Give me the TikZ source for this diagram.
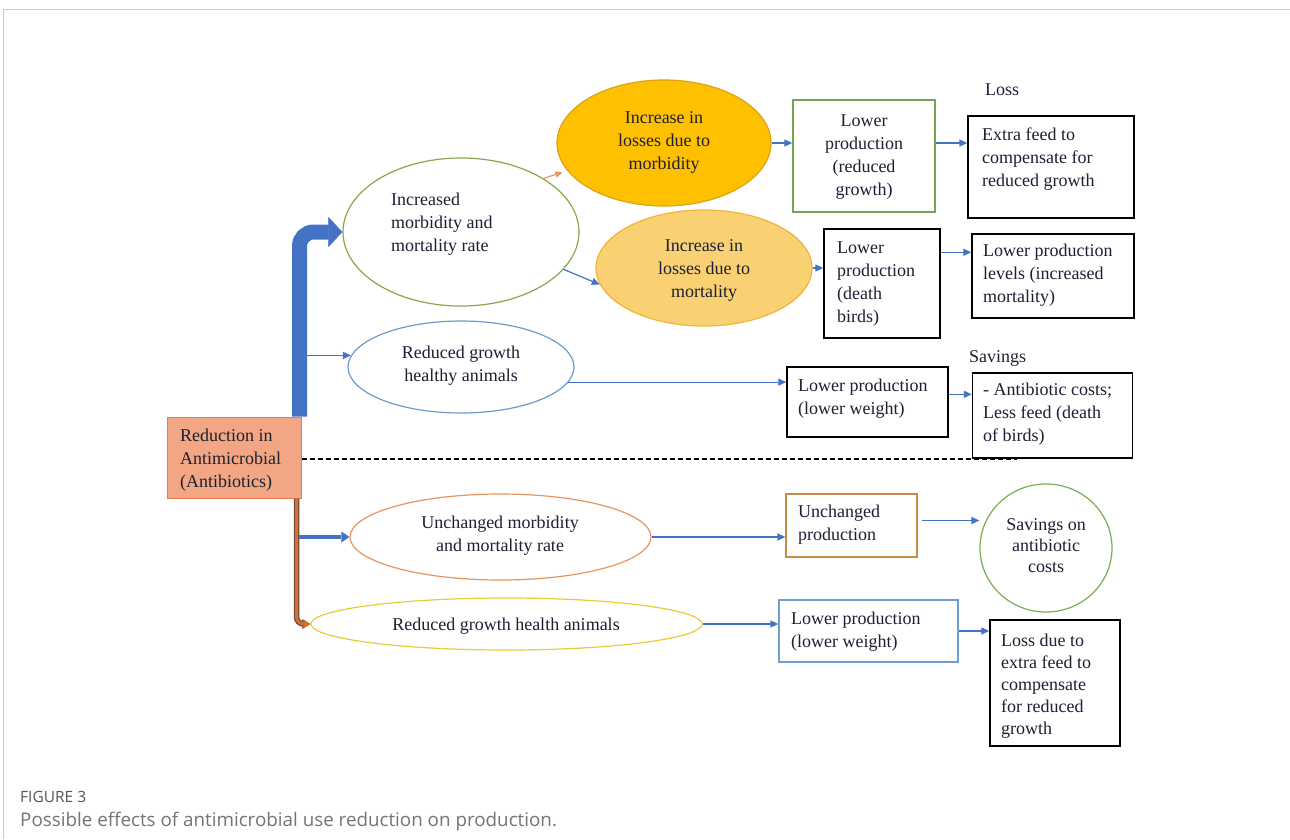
\documentclass[tikz,border=0pt]{standalone}
\usepackage{fontspec}
\setmainfont{Liberation Serif}
\newfontfamily\capfont{Open Sans}
\usetikzlibrary{shapes.geometric,arrows.meta,calc}

\definecolor{framegray}{HTML}{C8C8C8}
\definecolor{ink}{HTML}{1C2033}
\definecolor{redfill}{HTML}{F3A683}
\definecolor{redline}{HTML}{E8804A}
\definecolor{arrowblue}{HTML}{4472C4}
\definecolor{greenA}{HTML}{86A84B}
\definecolor{blueA}{HTML}{6C9BCB}
\definecolor{gold}{HTML}{FFC000}
\definecolor{golddark}{HTML}{D9A514}
\definecolor{lightgold}{HTML}{FAD172}
\definecolor{lightgoldline}{HTML}{F0B53A}
\definecolor{greenB}{HTML}{76A453}
\definecolor{orangeell}{HTML}{E69560}
\definecolor{brownbox}{HTML}{C98B45}
\definecolor{greenC}{HTML}{7AAE52}
\definecolor{yellowell}{HTML}{E8CB35}
\definecolor{blueB}{HTML}{6D9FCF}
\definecolor{orgfill}{HTML}{D8702E}
\definecolor{orgline}{HTML}{6B4A3A}
\definecolor{capA}{HTML}{555555}
\definecolor{capB}{HTML}{757575}

% strut that fixes the height of a first text line
\newcommand{\fs}{\rule{0pt}{14pt}}

\tikzset{
  shapebox/.style={rectangle, draw, line width=1.4pt, inner sep=0pt},
  shapeell/.style={ellipse, draw, line width=1.2pt, inner sep=0pt},
  txl/.style={font=\fontsize{18}{23}\selectfont, text=ink, inner sep=0pt, align=left, anchor=north west},
  txc/.style={font=\fontsize{18}{23}\selectfont, text=ink, inner sep=0pt, align=center, anchor=north},
  arr/.style={draw=arrowblue, line width=1.2pt, -{Triangle[length=8pt,width=7pt]}},
  bigarrow/.style={draw=arrowblue, line width=15pt, rounded corners=14pt,
    -{Triangle[length=14pt,width=30pt,line width=0.5pt]}},
}

\begin{document}
\begin{tikzpicture}[x=1pt,y=-1pt]
\useasboundingbox (0,0) rectangle (1290,839);
\fill[white] (0,0) rectangle (1290,839);
% panel frame
\draw[framegray, line width=1pt] (3,839) -- (3,9) -- (1290,9);

% ---- shapes ----
\node[shapebox, fill=redfill, draw=redline, line width=1pt, minimum width=134pt, minimum height=81pt] (red) at (234,457.5) {};

\node[shapeell, draw=greenA, minimum width=236pt, minimum height=148pt] (incmm) at (461,232) {};
\node[shapeell, draw=blueA, minimum width=226pt, minimum height=92pt] (rgh) at (461,367) {};
\node[shapeell, fill=gold, draw=golddark, minimum width=214pt, minimum height=126pt] (incmorb) at (664,143) {};
\node[shapeell, fill=lightgold, draw=lightgoldline, minimum width=216pt, minimum height=116pt] (incmort) at (704,268) {};

\node[shapebox, draw=greenB, minimum width=142pt, minimum height=112pt] (lpr) at (864,156) {};
\node[shapebox, draw=black, minimum width=116pt, minimum height=109pt] (ldb) at (882,283.5) {};
\node[shapebox, draw=black, minimum width=166pt, minimum height=102pt] (extra) at (1051,167) {};
\node[shapebox, draw=black, minimum width=162pt, minimum height=84pt] (levels) at (1053,276) {};
\node[shapebox, draw=black, minimum width=161pt, minimum height=70pt] (lpwa) at (867.5,402) {};
\node[shapebox, draw=black, minimum width=160pt, minimum height=85pt] (savbox) at (1052.5,415.5) {};

\node[shapeell, draw=orangeell, minimum width=301pt, minimum height=86pt] (unch) at (500.5,537) {};
\node[shapebox, draw=brownbox, line width=1.2pt, minimum width=131pt, minimum height=63pt] (upr) at (851.5,525.5) {};
\node[shapeell, draw=greenC, minimum width=132pt, minimum height=128pt] (savcirc) at (1046,548) {};
\node[shapeell, draw=yellowell, minimum width=391pt, minimum height=52pt] (rgha) at (506.5,624) {};
\node[shapebox, draw=blueB, line width=1.2pt, minimum width=179pt, minimum height=62pt] (lpwb) at (868.5,631) {};
\node[shapebox, draw=black, minimum width=130pt, minimum height=126pt] (lossbox) at (1055,683) {};

% ---- texts ----
\node[txl] (tred) at (180,427) {\fs Reduction in\\Antimicrobial\\(Antibiotics)};
\node[txl] (tincmm) at (391,191) {\fs Increased\\morbidity and\\mortality rate};
\node[txc] (trgh) at (461,344) {\fs Reduced growth\\healthy animals};
\node[txc] (tincmorb) at (664,109) {\fs Increase in\\losses due to\\morbidity};
\node[txc] (tincmort) at (704,237) {\fs Increase in\\losses due to\\mortality};
\node[txc] (tlpr) at (864,112) {\fs Lower\\production\\(reduced\\growth)};
\node[txl] (tldb) at (837,239) {\fs Lower\\production\\(death\\birds)};
\node[txl] (tloss) at (985,81) {\fs Loss};
\node[txl] (textra) at (982,126) {\fs Extra feed to\\compensate for\\reduced growth};
\node[txl] (tlevels) at (983,242) {\fs Lower production\\levels (increased\\mortality)};
\node[txl] (tsavings) at (969,348) {\fs Savings};
\node[txl] (tlpwa) at (798,377) {\fs Lower production\\(lower weight)};
\node[txl] (tsavbox) at (983,381) {\fs - Antibiotic costs;\\Less feed (death\\of birds)};
\node[txc] (tunch) at (500,514) {\fs Unchanged morbidity\\and mortality rate};
\node[txl] (tupr) at (798,503) {\fs Unchanged\\production};
\node[txc, font=\fontsize{18}{21}\selectfont] (tsavcirc) at (1046,516) {\fs Savings on\\antibiotic\\costs};
\node[txc] (trgha) at (506,616) {\fs Reduced growth health animals};
\node[txl] (tlpwb) at (791,610) {\fs Lower production\\(lower weight)};
\node[txl, font=\fontsize{18}{22}\selectfont] (tlossbox) at (1001,632) {\fs Loss due to\\extra feed to\\compensate\\for reduced\\growth};

% ---- connectors ----
\coordinate (barx) at (299.5,0);
\coordinate (ox) at (296.5,0);
\coordinate (barr) at (307,0);
\coordinate (dashend) at (1017,459);

% separator between the two scenarios
\draw[line width=1.3pt, dash pattern=on 5pt off 3pt] (red.east |- dashend) -- (dashend);

% upper branch
\draw[bigarrow] (red.north -| barx) |- (incmm.west);
\draw[arr] (rgh.174 -| barr) -- (rgh.174);
\draw[draw=orangeell, line width=1.2pt, -{Triangle[length=7pt,width=6pt]}] (incmm.33) -- ([xshift=-10pt,yshift=4pt]incmorb.200);
\draw[arr] (incmm.-20) -- (incmort.189);
\draw[arr] (incmorb.east) -- (incmorb.east -| lpr.west);
\draw[arr] (lpr.east |- incmorb.east) -- (incmorb.east -| extra.west);
\draw[arr] (incmort.east) -- (incmort.east -| ldb.west);
\draw[arr] ([yshift=-24pt]ldb.north east) -- ([yshift=-24pt]ldb.north east -| levels.west);
\draw[arr] (rgh.-8) -- (rgh.-8 -| lpwa.west);
\draw[arr] ([yshift=-28pt]lpwa.north east) -- ([yshift=-28pt]lpwa.north east -| savbox.west);

% lower branch
\draw[line width=5.5pt, draw=orgline, rounded corners=7pt, -{Triangle[length=8pt,width=10pt,line width=0pt]}] (red.south -| ox) |- (rgha.west);
\draw[line width=3pt, draw=orgfill, rounded corners=7pt, -{Triangle[length=7pt,width=8pt,line width=0pt]}] (red.south -| ox) |- (rgha.west);
\draw[draw=arrowblue, line width=4pt, -{Triangle[length=8pt,width=11pt,line width=0pt]}] ([xshift=2pt]unch.west -| ox) -- (unch.west);
\draw[arr] (unch.east) -- (unch.east -| upr.west);
\draw[arr] ([xshift=4pt,yshift=5pt]upr.east) -- ([yshift=5pt]upr.east -| savcirc.west);
\draw[arr] (rgha.east) -- (rgha.east -| lpwb.west);
\draw[arr] (lpwb.east) -- (lpwb.east -| lossbox.west);

% ---- caption ----
\node[anchor=north west, inner sep=0pt, font=\capfont\fontsize{15.5}{18}\selectfont, text=capA] (capa) at (20,791) {FIGURE 3};
\node[anchor=north west, inner sep=0pt, font=\capfont\fontsize{18.8}{22}\selectfont, text=capB] (capb) at (20,812) {Possible effects of antimicrobial use reduction on production.};
\end{tikzpicture}
\end{document}
